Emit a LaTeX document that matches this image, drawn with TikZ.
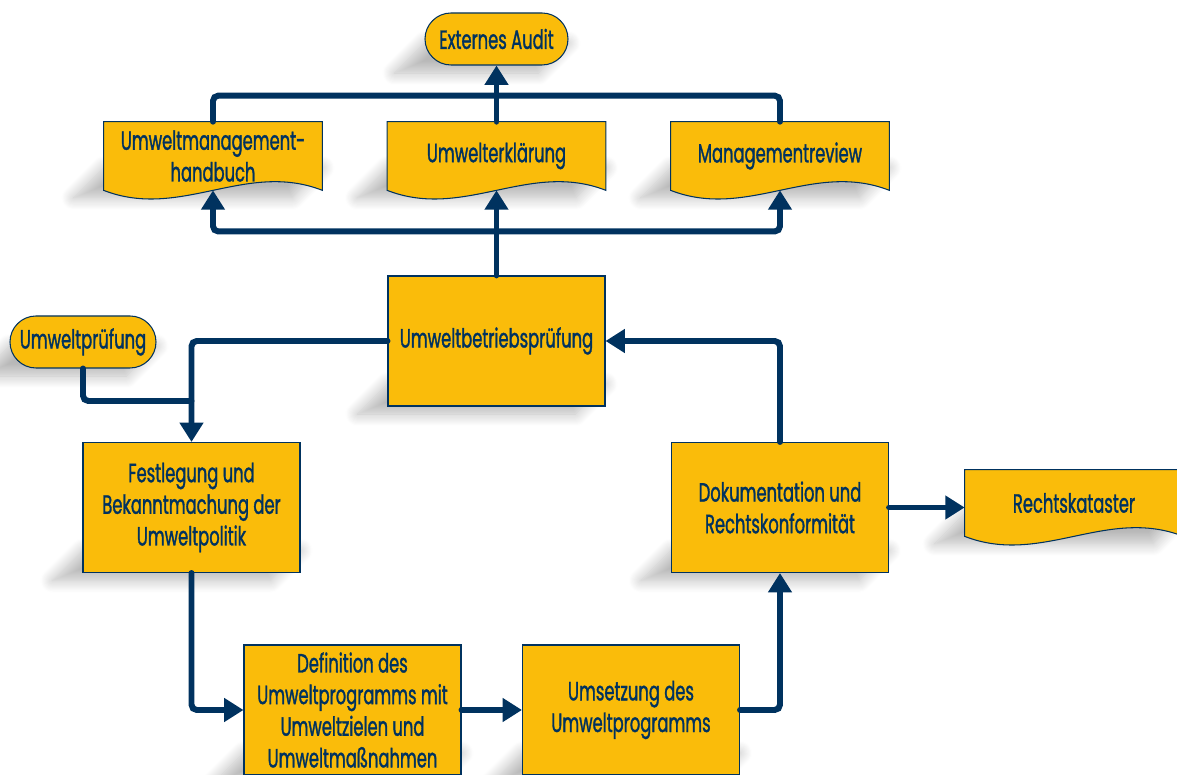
\documentclass[tikz,border=0pt]{standalone}
\usepackage{fontspec}
\setmainfont{Poppins}[FakeStretch=0.62,FakeBold=1.2]
\usetikzlibrary{arrows.meta,calc,backgrounds,shadows.blur}
\definecolor{navy}{RGB}{0,50,95}
\definecolor{gold}{RGB}{250,188,10}
% outline of a document symbol round a node
\newcommand\docshape[1]{%
  \filldraw[draw=navy,line width=.6pt,fill=gold](#1.north west)--(#1.north east)--(#1.south east)
  .. controls ($(#1.south west)!.65!(#1.south east)+(0,.6)$) and ($(#1.south west)!.35!(#1.south east)+(0,-.6)$) .. (#1.south west)--cycle}
% soft shadow to the lower left
\newcommand\dropshade[1]{%
  \path[blur shadow={shadow xshift=0pt,shadow yshift=0pt,shadow blur radius=7pt,shadow blur steps=12,shadow opacity=28}]
  ($(#1.south west)+(-.6,-.15)$)--($(#1.south east)+(-.6,-.15)$)--($(#1.south east)+(0,.45)$)--($(#1.south west)+(0,.45)$)--cycle}

\begin{document}
\begin{tikzpicture}
\tikzset{
  box/.style={draw=navy,line width=.6pt,fill=gold,minimum width=4.34cm,minimum height=2.6cm,inner sep=2pt},
  doc/.style={minimum width=4.36cm,minimum height=1.36cm,inner sep=2pt},
  term/.style={draw=navy,line width=.6pt,fill=gold,rounded corners=.52cm,minimum height=1.04cm,inner sep=2pt},
  link/.style={draw=navy,line width=3.4pt,line cap=round,rounded corners=3pt},
  arrow/.style={link,-{Triangle[length=11pt,width=13pt]}},
  every node/.style={text=navy,align=center,font=\fontsize{15}{18}\selectfont}
}
\useasboundingbox(0,0)rectangle(23.54,15.5);

\node[term,minimum width=2.86cm](audit)at(9.93,14.72){Externes Audit};
\node[doc](handbuch)at(4.26,12.38){Umweltmanagement-\\handbuch};
\node[doc](erklaerung)at(9.93,12.38){Umwelterklärung};
\node[doc](review)at(15.60,12.38){Managementreview};
\node[term,minimum width=2.92cm](pruefung)at(1.66,8.66){Umweltprüfung};
\node[box](betrieb)at(9.93,8.68){Umweltbetriebsprüfung};
\node[box](politik)at(3.83,5.35){Festlegung und\\Bekanntmachung der\\Umweltpolitik};
\node[box](programm)at(7.05,1.30){Definition des\\Umweltprogramms mit\\Umweltzielen und\\Umweltmaßnahmen};
\node[box](umsetzung)at(12.62,1.30){Umsetzung des\\Umweltprogramms};
\node[box](doku)at(15.60,5.35){Dokumentation und\\Rechtskonformität};
\node[doc,minimum height=1.32cm](kataster)at(21.48,5.44){Rechtskataster};

\begin{scope}[on background layer]
\foreach \n in {audit,handbuch,erklaerung,review,pruefung,betrieb,politik,programm,umsetzung,doku,kataster}
  {\dropshade{\n};}
\foreach \n in {handbuch,erklaerung,review,kataster}
  {\docshape{\n};}
\end{scope}

\coordinate(fork)at($(betrieb.north)+(0,.88)$);
\coordinate(join)at(politik.north|-0,7.48);

\draw[arrow](erklaerung.north)--(audit.south);
\draw[link](handbuch.north)--++(0,.52)-|(review.north);
\draw[arrow](betrieb.north)--(erklaerung.south);
\draw[arrow](fork)-|(handbuch.south);
\draw[arrow](fork)-|(review.south);
\draw[arrow](betrieb.west)-|(politik.north);
\draw[link](pruefung.south)|-(join);
\draw[arrow](politik.south)|-(programm.west);
\draw[arrow](programm.east)--(umsetzung.west);
\draw[arrow](umsetzung.east)-|(doku.south);
\draw[arrow](doku.north)|-(betrieb.east);
\draw[arrow](doku.east)--(doku.east-|kataster.west);
\end{tikzpicture}
\end{document}
